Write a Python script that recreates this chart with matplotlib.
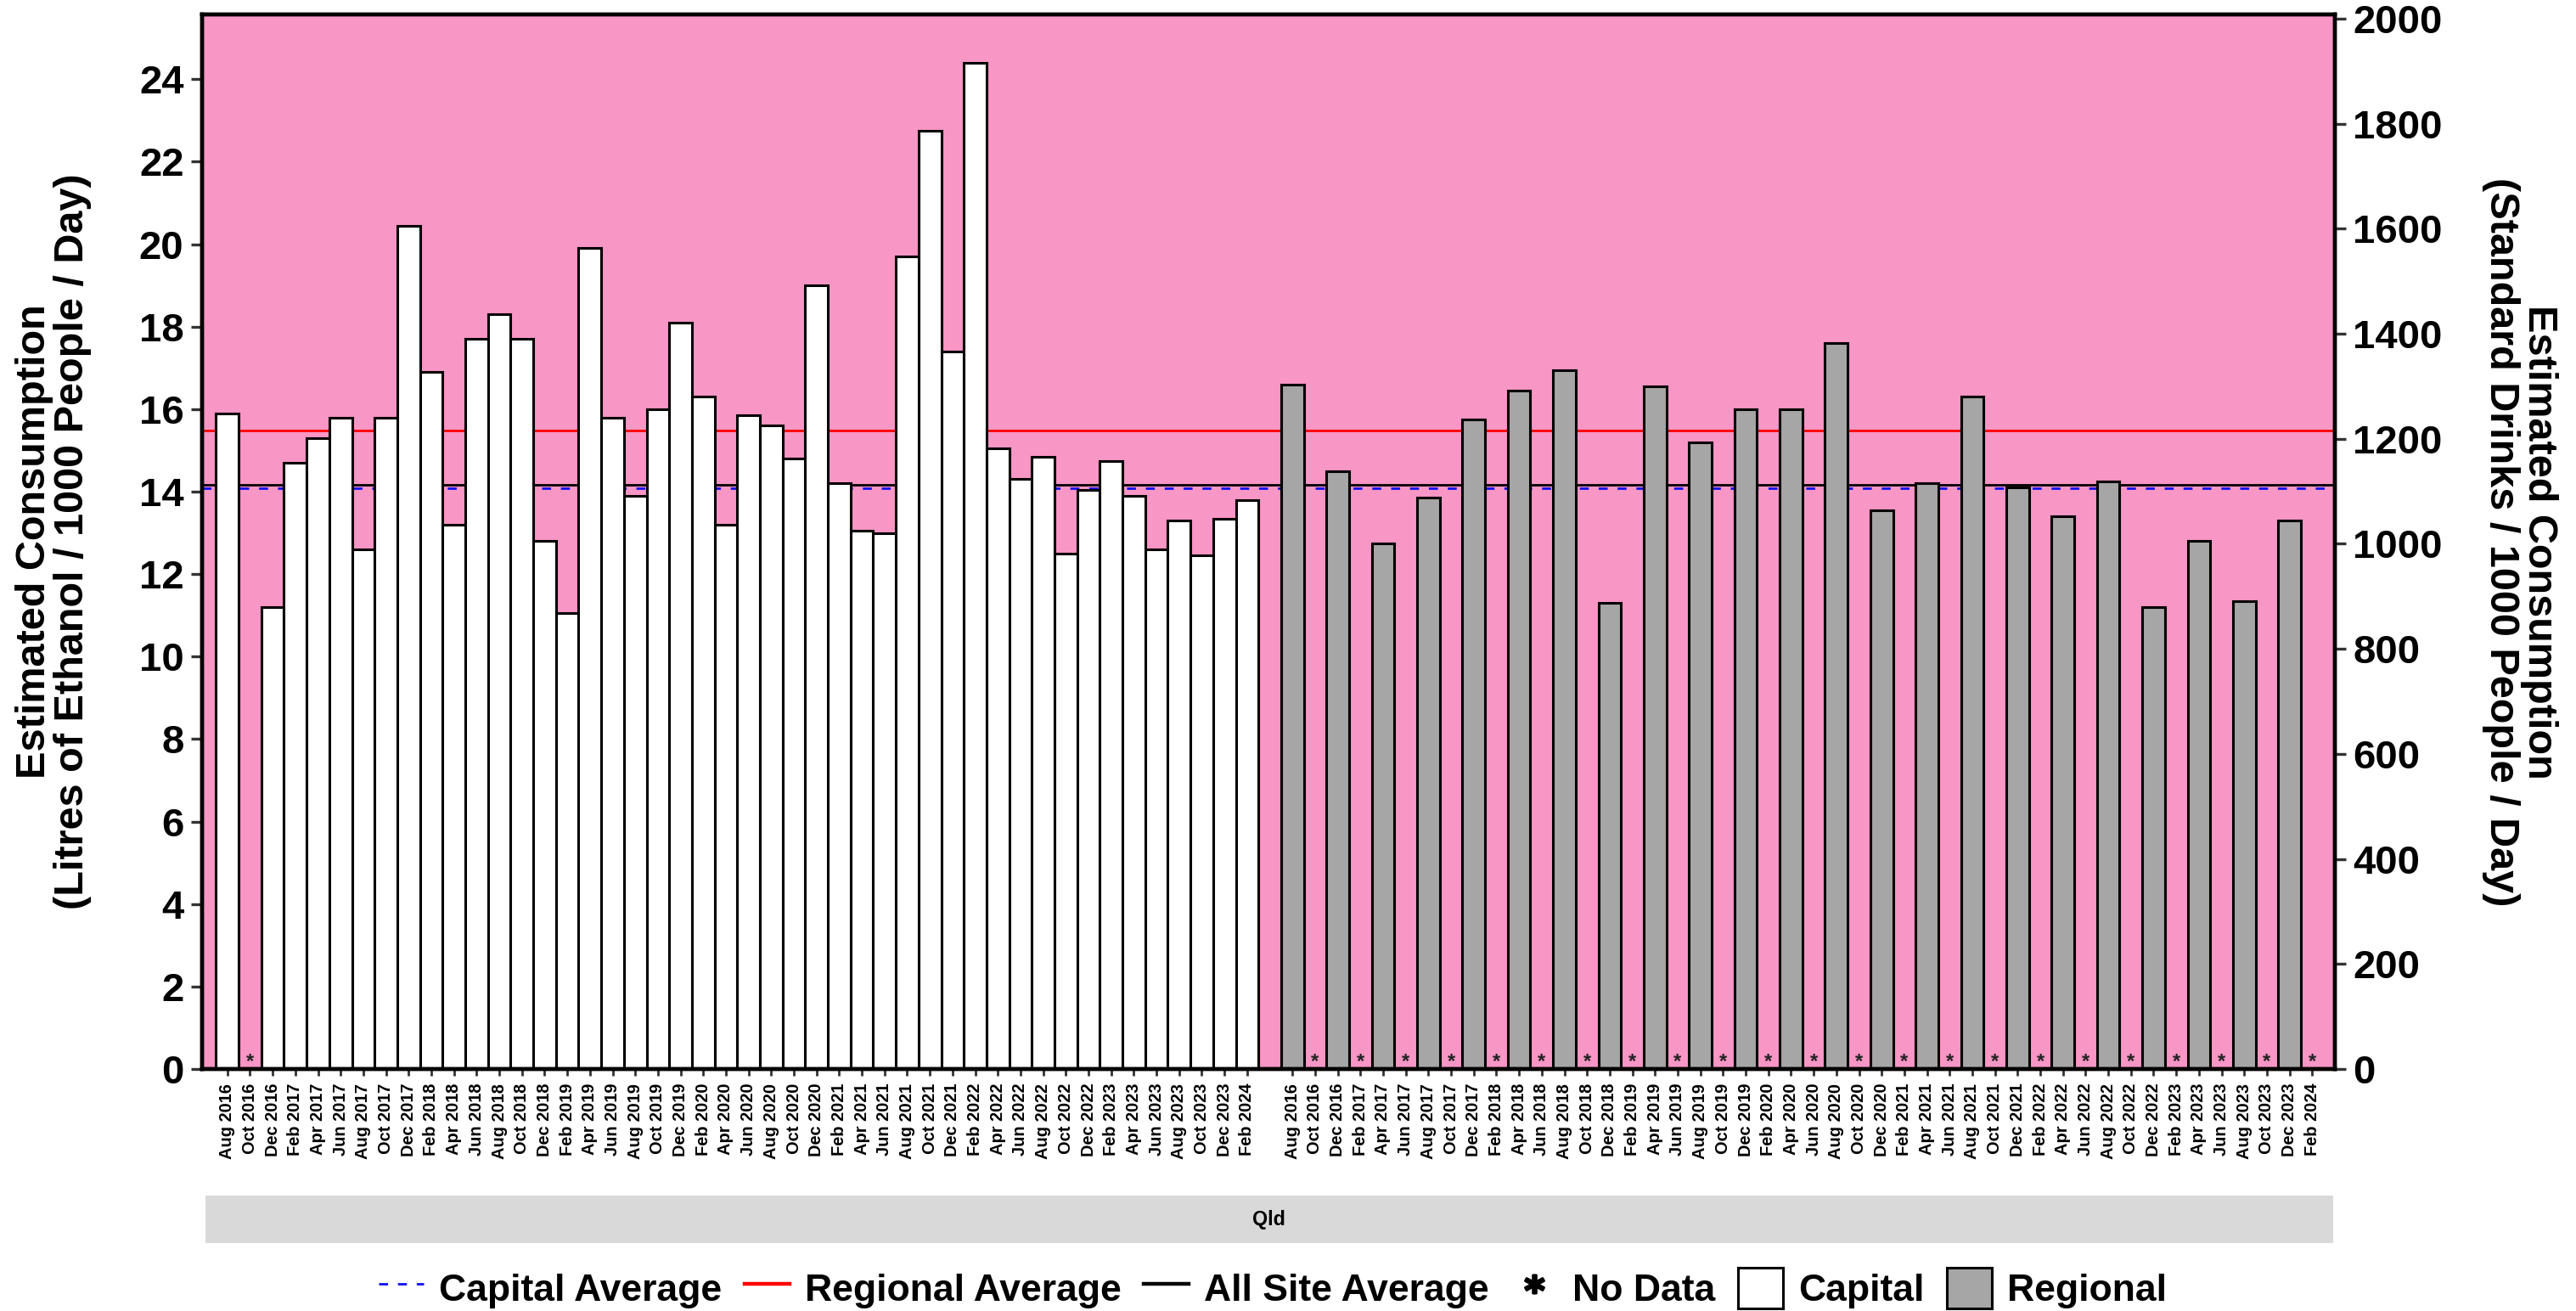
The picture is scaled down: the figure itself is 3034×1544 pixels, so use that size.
import numpy as np
import matplotlib
matplotlib.use("Agg")
import matplotlib.pyplot as plt
from matplotlib.lines import Line2D
from matplotlib.patches import Patch, Rectangle

plt.rcParams['font.family'] = ['Liberation Sans', 'DejaVu Sans']
plt.rcParams['font.weight'] = 'bold'

# 采样月份（两个面板相同）
months = ['Aug 2016', 'Oct 2016', 'Dec 2016',
          'Feb 2017', 'Apr 2017', 'Jun 2017', 'Aug 2017', 'Oct 2017', 'Dec 2017',
          'Feb 2018', 'Apr 2018', 'Jun 2018', 'Aug 2018', 'Oct 2018', 'Dec 2018',
          'Feb 2019', 'Apr 2019', 'Jun 2019', 'Aug 2019', 'Oct 2019', 'Dec 2019',
          'Feb 2020', 'Apr 2020', 'Jun 2020', 'Aug 2020', 'Oct 2020', 'Dec 2020',
          'Feb 2021', 'Apr 2021', 'Jun 2021', 'Aug 2021', 'Oct 2021', 'Dec 2021',
          'Feb 2022', 'Apr 2022', 'Jun 2022', 'Aug 2022', 'Oct 2022', 'Dec 2022',
          'Feb 2023', 'Apr 2023', 'Jun 2023', 'Aug 2023', 'Oct 2023', 'Dec 2023',
          'Feb 2024']

# 首府城市（None = 无数据）
capital = [15.9, None, 11.2,
           14.7, 15.3, 15.8, 12.6, 15.8, 20.45,
           16.9, 13.2, 17.7, 18.3, 17.7, 12.8,
           11.05, 19.9, 15.8, 13.9, 16.0, 18.1,
           16.3, 13.2, 15.85, 15.6, 14.8, 19.0,
           14.2, 13.05, 13.0, 19.7, 22.75, 17.4,
           24.4, 15.05, 14.3, 14.85, 12.5, 14.05,
           14.75, 13.9, 12.6, 13.3, 12.45, 13.35,
           13.8]

# 地区（隔月采样）
regional = [16.6, None, 14.5,
            None, 12.75, None, 13.85, None, 15.75,
            None, 16.45, None, 16.95, None, 11.3,
            None, 16.55, None, 15.2, None, 16.0,
            None, 16.0, None, 17.6, None, 13.55,
            None, 14.2, None, 16.3, None, 14.1,
            None, 13.4, None, 14.25, None, 11.2,
            None, 12.8, None, 11.35, None, 13.3,
            None]

capital_avg = 14.08
regional_avg = 15.48
all_site_avg = 14.17
litres_to_drinks = 78.52

pink = '#F896C5'
grey = '#A6A6A6'

fig = plt.figure(figsize=(15.17, 7.72), dpi=200)
ax = fig.add_axes([0.0784, 0.1846, 0.828, 0.8044])
ax.set_facecolor(pink)

n = len(months)
offset = n + 1
x_cap = np.arange(n)
x_reg = np.arange(n) + offset

# 平均线（在柱子下面）
ax.axhline(capital_avg, color='#1010F0', lw=1.0, dashes=(3.8, 4.2), zorder=1)
ax.axhline(regional_avg, color='#FF0000', lw=1.0, zorder=1)
ax.axhline(all_site_avg, color='black', lw=1.0, zorder=1)

for xs, vals, fc in [(x_cap, capital, 'white'), (x_reg, regional, grey)]:
    for x, v in zip(xs, vals):
        if v is None:
            ax.annotate('*', (x, 0), xytext=(0, -1), textcoords='offset points',
                        ha='center', va='bottom', fontsize=8.5, color='#222222', zorder=3)
        else:
            ax.bar(x, v, width=1.0, color=fc, edgecolor='black', linewidth=1.1, zorder=2)

ax.set_xlim(-1.12, 2 * n + 1.0)
ax.set_ylim(0, 25.57)
ax.set_yticks(np.arange(0, 25, 2))
ax.set_xticks(np.concatenate([x_cap, x_reg]))
ax.set_xticklabels(months + months, rotation=90, fontsize=7.2, fontweight='bold')
ax.tick_params(axis='x', length=3, width=1.0, color='#333333', pad=3)
ax.tick_params(axis='y', labelsize=17, length=4.7, width=1.2, color='#333333', pad=3)
for s in ax.spines.values():
    s.set_linewidth(1.6)

ax.set_ylabel('Estimated Consumption\n(Litres of Ethanol / 1000 People / Day)',
              fontsize=17.5, fontweight='bold', labelpad=20, linespacing=1.0)

ax2 = ax.twinx()
ax2.set_ylim(0, 25.57 * litres_to_drinks)
ax2.set_yticks(np.arange(0, 2001, 200))
ax2.tick_params(axis='y', labelsize=17, length=4.7, width=1.2, color='#333333', pad=3)
for s in ax2.spines.values():
    s.set_linewidth(1.6)
ax2.set_ylabel('Estimated Consumption\n(Standard Drinks / 1000 People / Day)',
               fontsize=17.5, fontweight='bold', rotation=270, labelpad=49, linespacing=1.0)

# 州名条
fig.add_artist(Rectangle((0.0798, 0.0518), 0.8259, 0.0363, transform=fig.transFigure,
                         facecolor='#D9D9D9', edgecolor='none'))
fig.text(0.4927, 0.0699, 'Qld', ha='center', va='center', fontsize=8.4, fontweight='bold')

handles = [
    Line2D([], [], color='#1010F0', lw=1.0, dashes=(3.8, 4.2)),
    Line2D([], [], color='#FF0000', lw=1.6),
    Line2D([], [], color='black', lw=1.6),
    Line2D([], [], ls='none', marker='$*$', markersize=8, color='black'),
    Patch(facecolor='white', edgecolor='black', lw=1.1),
    Patch(facecolor=grey, edgecolor='black', lw=1.1),
]
labels = ['Capital Average', 'Regional Average', 'All Site Average', 'No Data', 'Capital', 'Regional']
fig.legend(handles, labels, loc='center', bbox_to_anchor=(0.494, 0.0175), ncol=6,
           frameon=False, prop={'size': 16, 'weight': 'bold'},
           handlelength=1.2, handleheight=1.3, handletextpad=0.4, columnspacing=0.6)

fig.savefig('out.png', dpi=200)
